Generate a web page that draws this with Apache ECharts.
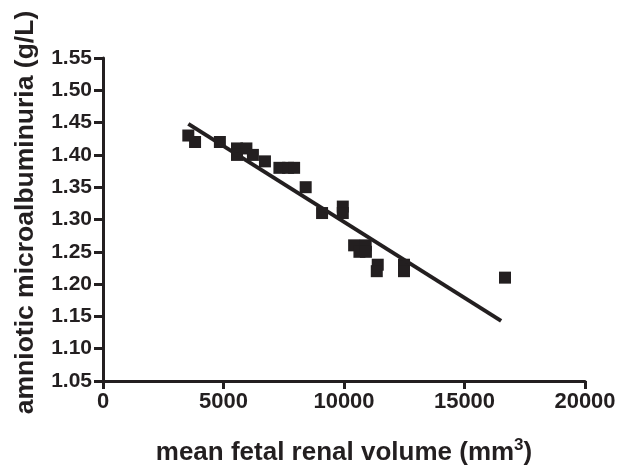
<!DOCTYPE html>
<html>
<head>
<meta charset="utf-8">
<script src="https://cdn.jsdelivr.net/npm/echarts@6/dist/echarts.min.js"></script>
<style>html,body{margin:0;padding:0;background:#fff}#c{width:618px;height:465px}</style>
</head>
<body>
<div id="c"></div>
<script>
const volume = [3540, 3820, 4850, 5560, 5950, 5560, 6220, 6720, 7320, 7680, 7930, 8410, 9090, 9950, 9950, 10420, 10900, 10640, 10910, 11400, 11360, 12490, 12490, 16680];
const albumin = [1.43, 1.42, 1.42, 1.41, 1.41, 1.40, 1.40, 1.39, 1.38, 1.38, 1.38, 1.35, 1.31, 1.32, 1.31, 1.26, 1.26, 1.25, 1.25, 1.23, 1.22, 1.23, 1.22, 1.21];
const fitX = [3540, 16520];
const fitY = [1.448, 1.143];
const xTicks = [0, 5000, 10000, 15000, 20000];
const yTicks = [1.05, 1.10, 1.15, 1.20, 1.25, 1.30, 1.35, 1.40, 1.45, 1.50, 1.55];

const ink = '#231f20';
const font = '"Liberation Sans", Arial, sans-serif';
const chart = echarts.init(document.getElementById('c'));
chart.setOption({
  animation: false,
  backgroundColor: '#fff',
  grid: { left: 103, right: 33, top: 58, bottom: 84, outerBoundsMode: 'none', containLabel: false },
  xAxis: {
    type: 'value', min: xTicks[0], max: xTicks[xTicks.length - 1], interval: 5000,
    splitLine: { show: false },
    axisLine: { lineStyle: { color: ink, width: 3 } },
    axisTick: { length: 8, lineStyle: { color: ink, width: 3 } },
    axisLabel: { color: ink, fontFamily: font, fontWeight: 'bold', fontSize: 22, margin: 10, formatter: v => String(v) },
    name: 'mean fetal renal volume (mm{sup|3})',
    nameLocation: 'middle', nameGap: 56,
    nameTextStyle: {
      color: ink, fontFamily: font, fontWeight: 'bold', fontSize: 26, lineHeight: 32,
      rich: { sup: { fontSize: 17, lineHeight: 17, fontFamily: font, fontWeight: 'bold', color: ink, verticalAlign: 'top' } }
    }
  },
  yAxis: {
    type: 'value', min: yTicks[0], max: yTicks[yTicks.length - 1], interval: 0.05,
    splitLine: { show: false },
    axisLine: { show: true, lineStyle: { color: ink, width: 3 } },
    axisTick: { show: true, length: 9, lineStyle: { color: ink, width: 3 } },
    axisLabel: { color: ink, fontFamily: font, fontWeight: 'bold', fontSize: 21, margin: 11, formatter: v => v.toFixed(2) },
    name: 'amniotic microalbuminuria (g/L)',
    nameLocation: 'middle', nameGap: 64,
    nameTextStyle: { color: ink, fontFamily: font, fontWeight: 'bold', fontSize: 26.5, padding: [0, 0, 0, 14] }
  },
  series: [
    {
      type: 'scatter', symbol: 'rect', symbolSize: 12,
      itemStyle: { color: ink, opacity: 1 },
      data: volume.map((v, i) => [v, albumin[i]])
    },
    {
      type: 'line', showSymbol: false, symbol: 'none',
      lineStyle: { color: ink, width: 4 },
      data: fitX.map((v, i) => [v, fitY[i]])
    }
  ]
});
</script>
</body>
</html>
